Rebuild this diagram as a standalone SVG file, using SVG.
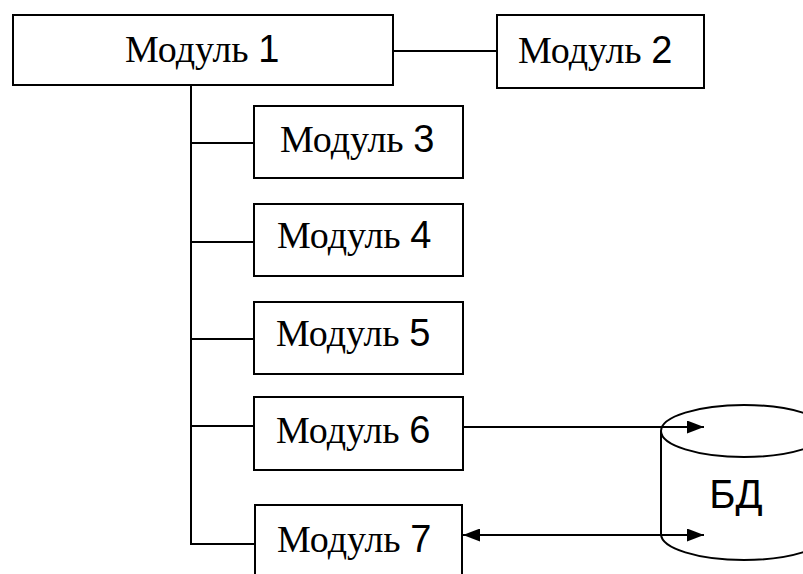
<svg xmlns="http://www.w3.org/2000/svg" width="803" height="574" viewBox="0 0 803 574">
<style>
.box{fill:#fff;stroke:#000;stroke-width:2}
.lbl{font-family:"Liberation Serif","Times New Roman",serif;font-size:38px;fill:#000}
.num{font-family:"Liberation Sans",Arial,sans-serif}
.con{fill:none;stroke:#000;stroke-width:2}
.db{fill:#fff;stroke:#000;stroke-width:2}
.dbt{font-family:"Liberation Sans",Arial,sans-serif;font-size:40px;fill:#000}
</style>
<defs>
<marker id="ah" viewBox="0 0 17 13" refX="17" refY="6.5" markerWidth="17" markerHeight="13" markerUnits="userSpaceOnUse" orient="auto-start-reverse">
<path d="M0,0 L17,6.5 L0,13 Z" fill="#000"/>
</marker>
</defs>
<g id="db">
<path class="db" d="M661,431 L661,534 A83,26 0 0 0 827,534 L827,431"/>
<ellipse class="db" cx="744" cy="431" rx="83" ry="26"/>
<text class="dbt" x="736" y="508" text-anchor="middle">БД</text>
</g>
<g id="connectors">
<line class="con" x1="393" y1="51" x2="497" y2="51"/>
<polyline class="con" points="191,85 191,544 255,544"/>
<line class="con" x1="191" y1="143" x2="254" y2="143"/>
<line class="con" x1="191" y1="242" x2="254" y2="242"/>
<line class="con" x1="191" y1="339" x2="254" y2="339"/>
<line class="con" x1="191" y1="426" x2="254" y2="426"/>
<line class="con" x1="463" y1="427" x2="704" y2="427" marker-end="url(#ah)"/>
<line class="con" x1="463" y1="535" x2="704" y2="535" marker-start="url(#ah)" marker-end="url(#ah)"/>
</g>
<g id="m1"><rect class="box" x="13" y="15" width="380" height="70"/><text class="lbl" x="125" y="62">Модуль <tspan class="num">1</tspan></text></g>
<g id="m2"><rect class="box" x="497" y="15" width="207" height="73"/><text class="lbl" x="518" y="63">Модуль <tspan class="num">2</tspan></text></g>
<g id="m3"><rect class="box" x="254" y="106" width="209" height="72"/><text class="lbl" x="280" y="152">Модуль <tspan class="num">3</tspan></text></g>
<g id="m4"><rect class="box" x="254" y="204" width="209" height="72"/><text class="lbl" x="277" y="248">Модуль <tspan class="num">4</tspan></text></g>
<g id="m5"><rect class="box" x="254" y="302" width="209" height="72"/><text class="lbl" x="276" y="346">Модуль <tspan class="num">5</tspan></text></g>
<g id="m6"><rect class="box" x="254" y="397" width="209" height="73"/><text class="lbl" x="276" y="443">Модуль <tspan class="num">6</tspan></text></g>
<g id="m7"><rect class="box" x="255" y="505" width="207" height="80"/><text class="lbl" x="277" y="552">Модуль <tspan class="num">7</tspan></text></g>
</svg>
